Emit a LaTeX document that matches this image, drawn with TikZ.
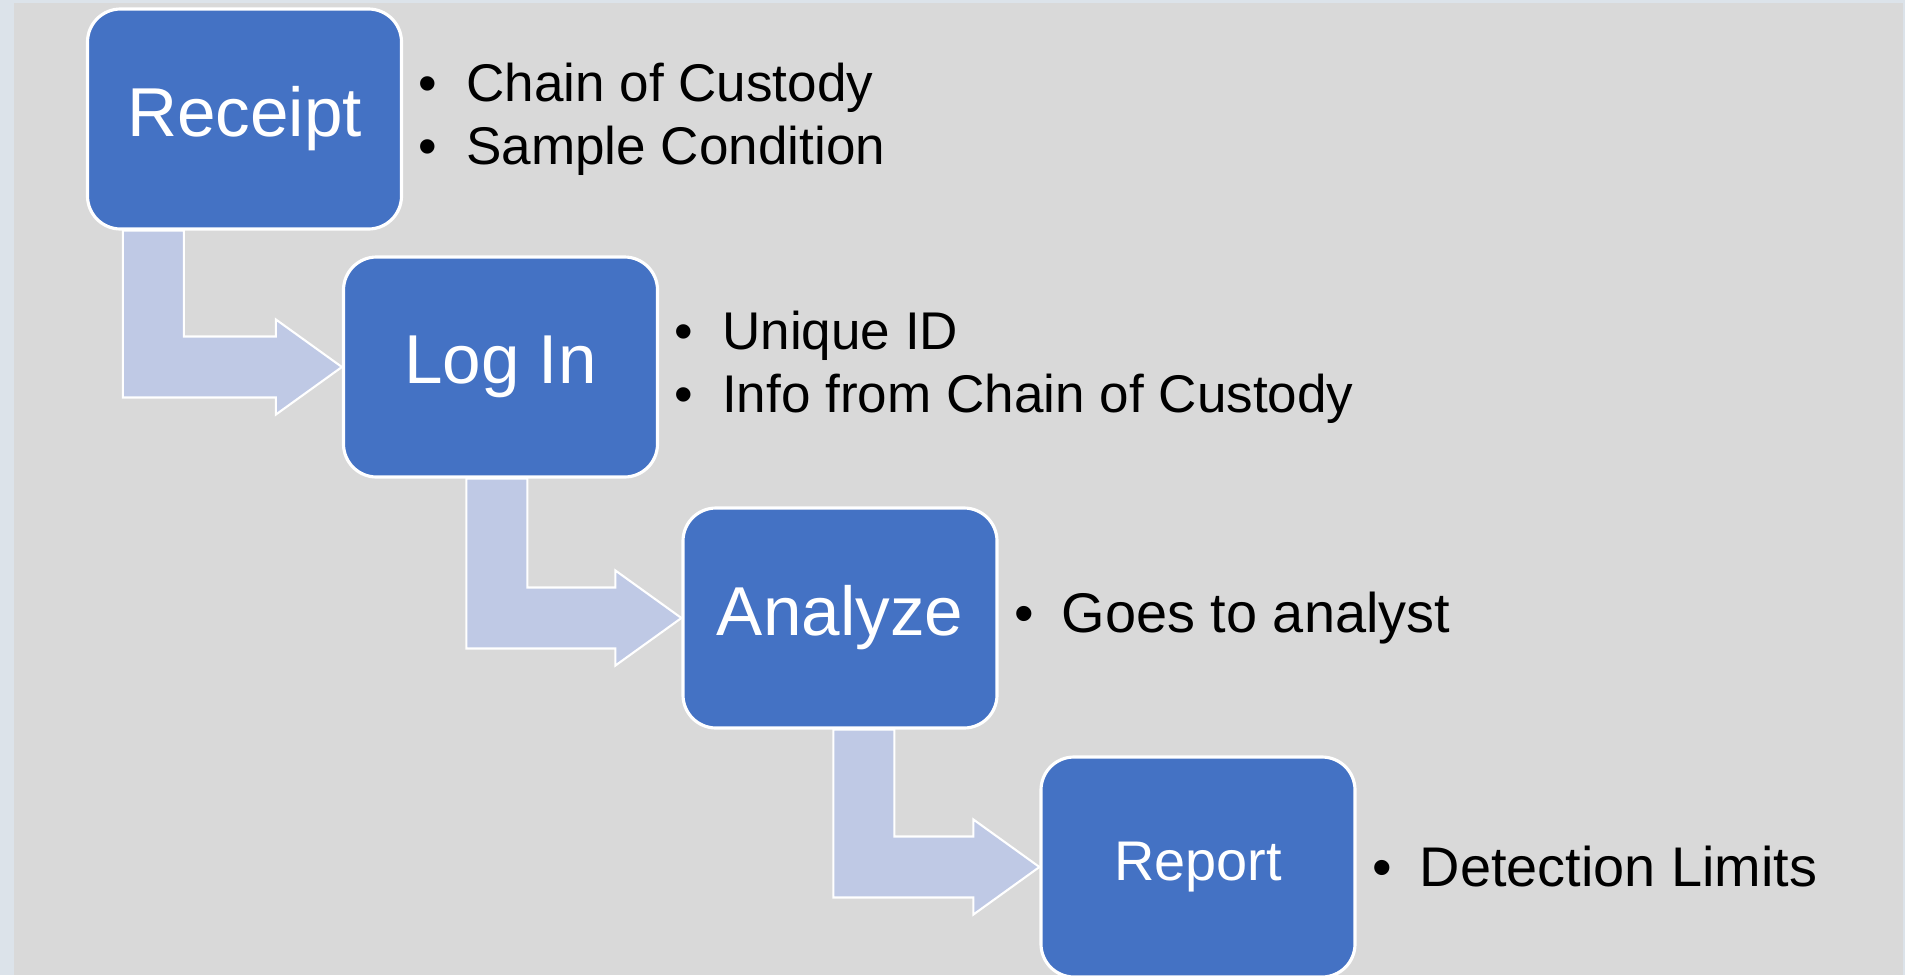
\documentclass[tikz,border=0pt]{standalone}
\usepackage{fontspec}
\setmainfont{Liberation Sans}
\usetikzlibrary{positioning, calc, backgrounds}
\definecolor{stepblue}{HTML}{4472C4}
\definecolor{arrowblue}{HTML}{BFC9E5}
\definecolor{slidegray}{HTML}{D9D9D9}
\definecolor{slideedge}{HTML}{DCE3EA}
\newcommand{\bul}[1]{\makebox[0.475cm][l]{•}#1}

\begin{document}
\begin{tikzpicture}[
  stepbox/.style={draw=white, line width=0.9pt, fill=stepblue,
    rounded corners=0.33cm, minimum width=3.14cm, minimum height=2.2cm,
    text=white, inner sep=0pt, font=\fontsize{19.7}{24}\selectfont},
  notes/.style={align=left, inner sep=0pt,
    font=\fontsize{15.1}{17.9}\selectfont},
  bignotes/.style={notes, font=\fontsize{15.9}{18.5}\selectfont},
  bentarrow/.style={fill=arrowblue, draw=white, line width=0.6pt}
]
  \useasboundingbox (0,0) rectangle (19.05,-9.75);

  % Slide background
  \begin{scope}[on background layer]
    \fill[slideedge] (0,0) rectangle (19.05,-9.75);
    \fill[slidegray] (0.14,-0.03) rectangle (19.03,-9.75);
  \end{scope}

  % Steps
  \node[stepbox] (rec) at (2.445,-1.19) {Receipt};
  \node[stepbox] (login) at (5.005,-3.67) {Log In};
  \node[stepbox] (ana) at (8.40,-6.18) {Analyze};
  \node[stepbox, font=\fontsize{15.9}{18}\selectfont] (rep)
    at (11.98,-8.67) {Report};

  % Notes
  \node[notes, right=0.15cm of rec] (recnotes)
    {\bul{Chain of Custody}\\\bul{Sample Condition}};
  \node[notes, right=0.15cm of login] (loginnotes)
    {\bul{Unique ID}\\\bul{Info from Chain of Custody}};
  \node[bignotes, right=0.15cm of ana] (ananotes)
    {\bul{Goes to analyst}};
  \node[bignotes, right=0.15cm of rep] (repnotes)
    {\bul{Detection Limits}};

  % Bent arrows
  \begin{scope}[on background layer]
    \foreach \src/\dst/\off in {rec/login/2.19, login/ana/2.15, ana/rep/2.06}
      \draw[bentarrow] let \p1 = (\dst.west), \p2 = (\src.south) in
        (\x1-\off cm, \y2) -- (\x1-\off cm, \y1-0.305cm)
        -- (\x1-0.66cm, \y1-0.305cm) -- (\x1-0.66cm, \y1-0.475cm)
        -- (\p1) -- (\x1-0.66cm, \y1+0.475cm)
        -- (\x1-0.66cm, \y1+0.305cm) -- (\x1-\off cm+0.61cm, \y1+0.305cm)
        -- (\x1-\off cm+0.61cm, \y2) -- cycle;
  \end{scope}
\end{tikzpicture}
\end{document}
